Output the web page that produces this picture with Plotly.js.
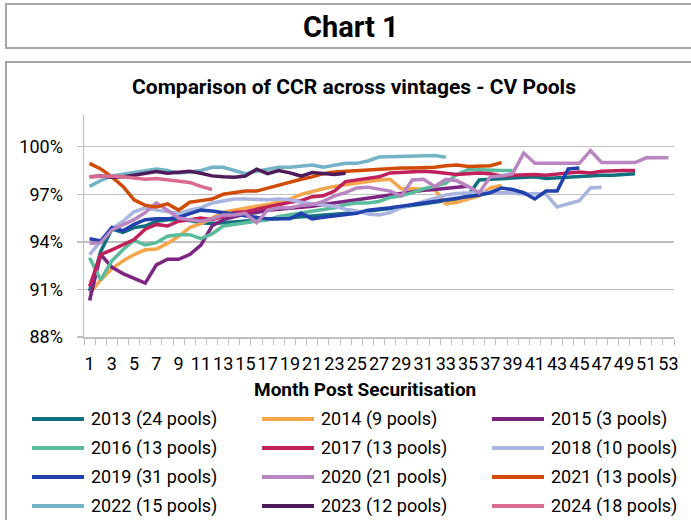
<!DOCTYPE html>
<html>
<head>
<meta charset="utf-8">
<script src="https://cdn.plot.ly/plotly-3.0.1.min.js"></script>
<style>
  html, body { margin: 0; padding: 0; background: #ffffff; }
  #chart { width: 691px; height: 520px; }
</style>
</head>
<body>
<div id="chart"></div>
<script>
// ---- Data ----
const months = [1,2,3,4,5,6,7,8,9,10,11,12,13,14,15,16,17,18,19,20,21,22,23,24,25,26,27,28,29,30,31,32,33,34,35,36,37,38,39,40,41,42,43,44,45,46,47,48,49,50,51,52,53];
const xTickVals = [1,3,5,7,9,11,13,15,17,19,21,23,25,27,29,31,33,35,37,39,41,43,45,47,49,51,53];
const xTickText = ["1","3","5","7","9","11","13","15","17","19","21","23","25","27","29","31","33","35","37","39","41","43","45","47","49","51","53"];
const yTickVals = [88, 91, 94, 97, 100];
const yTickText = ["88%", "91%", "94%", "97%", "100%"];

const seriesNames = ["2013 (24 pools)", "2014 (9 pools)", "2015 (3 pools)", "2016 (13 pools)", "2017 (13 pools)", "2018 (10 pools)",
                     "2019 (31 pools)", "2020 (21 pools)", "2021 (13 pools)", "2022 (15 pools)", "2023 (12 pools)", "2024 (18 pools)"];

const ccr2013 = [90.9, 93.4, 94.8, 94.6, 94.9, 95.0, 95.3, 95.4, 95.4, 95.35, 95.2, 95.15, 95.2, 95.25, 95.3, 95.35, 95.4, 95.45, 95.5, 95.55, 95.6, 95.65, 95.7, 95.8, 95.85, 95.95, 96.0, 96.1, 96.2, 96.3, 96.4, 96.5, 96.6, 96.7, 96.9, 97.9, 97.95, 98.0, 98.0, 98.05, 98.1, 98.0, 98.05, 98.1, 98.15, 98.15, 98.2, 98.2, 98.25, 98.3];
const ccr2014 = [90.75, 91.6, 92.3, 92.8, 93.2, 93.5, 93.55, 93.9, 94.35, 94.9, 95.15, 95.5, 95.85, 96.0, 96.15, 96.25, 96.35, 96.55, 96.7, 97.0, 97.2, 97.35, 97.5, 97.6, 97.75, 97.85, 97.9, 97.95, 97.35, 97.35, 97.35, 97.3, 96.4, 96.5, 96.7, 96.9, 97.4, 97.55];
const ccr2015 = [90.3, 93.2, 92.4, 92.0, 91.7, 91.4, 92.55, 92.9, 92.9, 93.2, 93.8, 95.0, 95.4, 95.6, 95.75, 95.85, 96.0, 96.05, 96.1, 96.15, 96.25, 96.35, 96.45, 96.6, 96.7, 96.8, 96.9, 97.0, 97.1, 97.2, 97.25, 97.3, 97.4, 97.45, 97.5];
const ccr2016 = [93.0, 91.6, 92.8, 93.5, 94.1, 93.8, 93.95, 94.35, 94.45, 94.45, 94.2, 94.5, 95.0, 95.1, 95.25, 95.3, 95.4, 95.6, 95.7, 95.8, 95.95, 96.05, 96.15, 96.35, 96.45, 96.45, 96.55, 96.8, 96.9, 97.1, 97.35, 97.5, 97.7, 98.25, 98.55, 98.55, 98.5, 98.5, 98.5];
const ccr2017 = [91.2, 93.2, 93.5, 93.8, 94.15, 94.8, 95.1, 95.0, 95.3, 95.4, 95.5, 95.4, 95.65, 95.85, 95.9, 96.05, 96.25, 96.35, 96.5, 96.6, 96.85, 96.9, 97.2, 97.8, 97.9, 98.0, 98.1, 98.35, 98.4, 98.45, 98.45, 98.4, 98.35, 98.25, 98.3, 98.35, 98.3, 98.15, 98.2, 98.25, 98.25, 98.2, 98.3, 98.35, 98.4, 98.35, 98.45, 98.5, 98.5, 98.5];
const ccr2018 = [93.2, 94.05, 94.8, 95.3, 95.9, 96.15, 96.0, 95.9, 95.8, 96.0, 96.15, 96.45, 96.6, 96.7, 96.7, 96.65, 96.65, 96.7, 96.65, 96.5, 96.4, 96.3, 96.25, 96.05, 95.95, 95.75, 95.7, 95.85, 96.15, 96.35, 96.55, 96.7, 96.95, 97.05, 97.1, 97.15, 97.15, 97.1, 97.1, 97.0, 97.05, 97.0, 96.2, 96.4, 96.6, 97.4, 97.45];
const ccr2019 = [94.2, 94.05, 94.9, 94.7, 95.1, 95.4, 95.45, 95.45, 95.55, 95.8, 96.0, 95.95, 95.85, 95.75, 95.65, 95.55, 95.45, 95.45, 95.45, 95.8, 95.45, 95.55, 95.65, 95.75, 95.8, 96.0, 96.05, 96.15, 96.25, 96.35, 96.45, 96.55, 96.65, 96.75, 96.8, 96.95, 97.1, 97.4, 97.3, 97.1, 96.7, 97.2, 97.2, 98.6, 98.65];
const ccr2020 = [93.9, 93.95, 94.75, 95.1, 95.4, 95.85, 96.45, 96.0, 95.5, 95.4, 95.3, 95.45, 95.7, 95.7, 95.8, 95.2, 96.0, 96.15, 96.15, 96.3, 96.35, 96.55, 96.9, 97.1, 97.4, 97.45, 97.3, 97.2, 96.9, 97.9, 97.95, 97.5, 97.95, 97.85, 97.5, 97.1, 98.1, 98.15, 98.3, 99.6, 98.95, 98.95, 99.0, 99.0, 98.95, 99.75, 99.0, 99.0, 99.0, 99.0, 99.3, 99.3, 99.3];
const ccr2021 = [98.95, 98.6, 98.1, 97.5, 96.65, 96.3, 96.2, 96.4, 96.0, 96.5, 96.6, 96.7, 97.0, 97.1, 97.2, 97.2, 97.4, 97.6, 97.8, 97.95, 98.1, 98.3, 98.4, 98.45, 98.5, 98.5, 98.55, 98.6, 98.65, 98.65, 98.65, 98.7, 98.8, 98.85, 98.75, 98.8, 98.8, 99.0];
const ccr2022 = [97.5, 97.87, 98.15, 98.25, 98.35, 98.5, 98.6, 98.5, 98.35, 98.4, 98.5, 98.7, 98.7, 98.5, 98.3, 98.45, 98.55, 98.7, 98.7, 98.8, 98.85, 98.7, 98.85, 98.95, 98.95, 99.1, 99.35, 99.37, 99.37, 99.4, 99.45, 99.45, 99.33];
const ccr2023 = [98.1, 98.15, 98.07, 98.1, 98.2, 98.3, 98.43, 98.33, 98.37, 98.45, 98.33, 98.16, 98.1, 98.07, 98.15, 98.58, 98.3, 98.5, 98.35, 98.15, 98.37, 98.33, 98.25, 98.33];
const ccr2024 = [98.1, 98.15, 98.15, 98.1, 98.0, 97.95, 98.0, 97.9, 97.8, 97.75, 97.5, 97.3];

const seriesValues = [ccr2013, ccr2014, ccr2015, ccr2016, ccr2017, ccr2018, ccr2019, ccr2020, ccr2021, ccr2022, ccr2023, ccr2024];

// ---- Styles ----
const seriesColors = ["#10707f", "#f5a64a", "#7b2481", "#5abc9c", "#c1215b", "#a9b5e0",
                      "#2141ad", "#b986c1", "#d14b05", "#72b4c5", "#4f1a5a", "#d96b91"];
const FONT = 'Roboto, "Liberation Sans", Arial, sans-serif';
const GRID = "#bfbfbf";

const W = 691, H = 520;
const M = { l: 84, r: 17, t: 115, b: 183 };
const PW = W - M.l - M.r, PH = H - M.t - M.b;
const px = x => (x - M.l) / PW;          // pixel -> paper x
const py = y => (H - M.b - y) / PH;      // pixel -> paper y

// ---- Traces ----
const traces = seriesValues.map((vals, k) => ({
  type: "scatter",
  mode: "lines",
  name: seriesNames[k],
  x: months.slice(0, vals.length),
  y: vals,
  line: { color: seriesColors[k], width: 3.5 },
  showlegend: false,
  hoverinfo: "x+y+name"
}));

// ---- Frames, legend ----
const shapes = [
  { type: "rect", xref: "paper", yref: "paper", x0: px(6), x1: px(720), y0: py(48), y1: py(4),
    line: { color: "#a6a6a6", width: 2 }, fillcolor: "rgba(0,0,0,0)" },
  { type: "rect", xref: "paper", yref: "paper", x0: px(6), x1: px(720), y0: py(540), y1: py(62),
    line: { color: "#a6a6a6", width: 2 }, fillcolor: "rgba(0,0,0,0)" }
];
const annotations = [
  { text: "Chart 1", xref: "paper", yref: "paper", x: px(351), y: py(27), showarrow: false,
    xanchor: "center", yanchor: "middle", font: { family: FONT, size: 29, color: "#000", weight: 700 } },
  { text: "Month Post Securitisation", xref: "paper", yref: "paper", x: px(365), y: py(389), showarrow: false,
    xanchor: "center", yanchor: "middle", font: { family: FONT, size: 19, color: "#000", weight: 700 } }
];
seriesNames.forEach((name, k) => {
  const col = k % 3, row = Math.floor(k / 3);
  const lx = 32 + col * 230, ly = 419 + row * 29;
  shapes.push({ type: "line", xref: "paper", yref: "paper", x0: px(lx), x1: px(lx + 52), y0: py(ly), y1: py(ly),
    line: { color: seriesColors[k], width: 4 } });
  annotations.push({ text: name, xref: "paper", yref: "paper", x: px(lx + 57), y: py(ly), showarrow: false,
    xanchor: "left", yanchor: "middle", font: { family: FONT, size: 18, color: "#000" } });
});

const layout = {
  width: W, height: H,
  margin: M,
  paper_bgcolor: "#ffffff",
  plot_bgcolor: "#ffffff",
  font: { family: FONT, color: "#000" },
  title: {
    text: "Comparison of CCR across vintages - CV Pools",
    xref: "container", yref: "container", x: 354 / W, y: 1 - 87 / H,
    xanchor: "center", yanchor: "middle",
    font: { family: FONT, size: 21, color: "#000", weight: 700 }
  },
  showlegend: false,
  xaxis: {
    type: "linear",
    range: [0.5, 53.5],
    tickmode: "array",
    tickvals: xTickVals,
    ticktext: xTickText,
    ticks: "",
    showgrid: false,
    zeroline: false,
    showline: true,
    linecolor: GRID,
    linewidth: 1.5,
    tickfont: { family: FONT, size: 18, color: "#000" },
    ticklabelstandoff: 10,
    minor: { tickmode: "linear", tick0: 0.5, dtick: 1, ticks: "outside", ticklen: 6, tickcolor: GRID, tickwidth: 1, showgrid: false }
  },
  yaxis: {
    range: [88, 102],
    tickmode: "array",
    tickvals: yTickVals,
    ticktext: yTickText,
    showgrid: true,
    gridcolor: GRID,
    gridwidth: 1.5,
    zeroline: false,
    showline: true,
    linecolor: GRID,
    linewidth: 1.5,
    ticks: "outside",
    ticklen: 6,
    tickcolor: GRID,
    tickwidth: 1.5,
    ticklabelstandoff: 10,
    tickfont: { family: FONT, size: 18, color: "#000" }
  },
  shapes: shapes,
  annotations: annotations
};

Plotly.newPlot("chart", traces, layout, { displayModeBar: false, staticPlot: true });
</script>
</body>
</html>
